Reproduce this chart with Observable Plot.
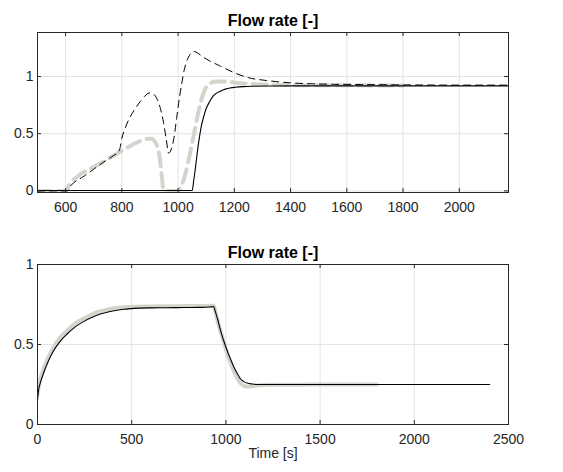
<!DOCTYPE html>
<html>
<head>
<meta charset="utf-8">
<script src="https://cdn.jsdelivr.net/npm/d3@7"></script>
<script src="https://cdn.jsdelivr.net/npm/@observablehq/plot@0.6"></script>
<style>
  html, body { margin: 0; padding: 0; background: #fff; }
  #chart svg { display: block; }
</style>
</head>
<body>
<div id="chart"></div>
<script>
// ---------- Data ----------
const titleText = "Flow rate [-]";
const xLabelText = "Time [s]";

// Top panel
const topXTicks = [600, 800, 1000, 1200, 1400, 1600, 1800, 2000];
const topYTicks = [0, 0.5, 1];
const topYTickLabels = ["0", "0.5", "1"];

const topSolidT = [500, 1050, 1056, 1060, 1066, 1070, 1076, 1083, 1091, 1100, 1112, 1125, 1137, 1150, 1168, 1185, 1203, 1232, 1270, 1315, 1400, 1600, 1800, 2000, 2180];
const topSolidV = [0.003, 0.003, 0.10, 0.17, 0.29, 0.37, 0.47, 0.57, 0.65, 0.72, 0.78, 0.83, 0.855, 0.872, 0.89, 0.90, 0.906, 0.912, 0.915, 0.917, 0.918, 0.918, 0.918, 0.918, 0.918];

const topDashT = [500, 605, 620, 660, 700, 740, 771, 785, 793, 800, 812, 824, 845, 865, 882, 897, 910, 924, 936, 948, 958, 966, 975, 985, 995, 1005, 1013, 1022, 1030, 1042, 1056, 1070, 1086, 1110, 1147, 1198, 1250, 1315, 1400, 1500, 1650, 1800, 2000, 2180];
const topDashV = [0, 0, 0.05, 0.12, 0.19, 0.26, 0.31, 0.335, 0.37, 0.46, 0.55, 0.62, 0.71, 0.78, 0.83, 0.855, 0.85, 0.81, 0.73, 0.60, 0.45, 0.33, 0.36, 0.46, 0.64, 0.82, 0.94, 1.06, 1.13, 1.19, 1.22, 1.205, 1.175, 1.14, 1.095, 1.035, 0.99, 0.965, 0.945, 0.935, 0.93, 0.927, 0.925, 0.925];

const topGrayT = [500, 600, 615, 650, 700, 723, 771, 800, 842, 870, 889, 904, 915, 924, 932, 939, 944, 948, 1000, 1012, 1025, 1040, 1055, 1068, 1082, 1098, 1115, 1127, 1150, 1178, 1203, 1256, 1315, 1400, 1600, 1800];
const topGrayV = [0, 0, 0.06, 0.14, 0.21, 0.24, 0.31, 0.35, 0.41, 0.44, 0.455, 0.455, 0.44, 0.40, 0.33, 0.20, 0.08, 0, 0, 0.05, 0.14, 0.30, 0.48, 0.64, 0.79, 0.90, 0.94, 0.955, 0.957, 0.956, 0.945, 0.935, 0.93, 0.925, 0.923, 0.922];

// Bottom panel
const botXTicks = [0, 500, 1000, 1500, 2000, 2500];
const botYTicks = [0, 0.5, 1];
const botYTickLabels = ["0", "0.5", "1"];

const botBlackT = [0, 5, 15, 32, 50, 67, 90, 112, 135, 156, 200, 244, 290, 333, 380, 422, 470, 510, 600, 687, 780, 865, 910, 927, 935, 944, 958, 971, 988, 1006, 1024, 1042, 1060, 1077, 1095, 1113, 1140, 1166, 1250, 1500, 1800, 2100, 2400];
const botBlackV = [0.15, 0.21, 0.26, 0.32, 0.375, 0.42, 0.47, 0.507, 0.54, 0.564, 0.61, 0.643, 0.67, 0.69, 0.705, 0.714, 0.721, 0.726, 0.729, 0.73, 0.731, 0.732, 0.734, 0.736, 0.737, 0.705, 0.65, 0.59, 0.525, 0.464, 0.41, 0.36, 0.32, 0.286, 0.268, 0.259, 0.253, 0.25, 0.25, 0.25, 0.25, 0.25, 0.25];

const botGrayT = [0, 10, 30, 50, 67, 100, 130, 156, 200, 250, 300, 350, 400, 450, 500, 600, 700, 800, 900, 935, 945, 960, 980, 1000, 1020, 1040, 1060, 1080, 1100, 1120, 1140, 1170, 1250, 1400, 1600, 1800];
const botGrayV = [0.19, 0.26, 0.34, 0.40, 0.44, 0.51, 0.555, 0.585, 0.63, 0.665, 0.695, 0.712, 0.725, 0.732, 0.736, 0.738, 0.739, 0.74, 0.741, 0.742, 0.70, 0.63, 0.55, 0.47, 0.40, 0.34, 0.29, 0.255, 0.24, 0.237, 0.24, 0.245, 0.248, 0.249, 0.25, 0.25];

// ---------- Helpers ----------
const zip = (ts, vs) => ts.map((t, i) => ({t, v: vs[i]}));
const FONT = "Liberation Sans, Arial, Helvetica, sans-serif";
const AX = "#262626";
const GRID = "#e3e3e3";
const GRAY = "#d6d3cc";
const TICK = 4;

function panel({height, mt, mb, xDomain, yDomain, xTicks, yTicks, yLabels, lines, xLabel}) {
  const W = 563, ml = 37, mr = 55;
  const ph = height - mt - mb, pw = W - ml - mr;
  const marks = [
    Plot.gridX(xTicks, {stroke: GRID, strokeOpacity: 1, strokeWidth: 1}),
    Plot.gridY(yTicks, {stroke: GRID, strokeOpacity: 1, strokeWidth: 1}),
    ...lines,
    Plot.ruleX(xTicks, {x: d => d, insetTop: ph - TICK, stroke: AX}),
    Plot.ruleX(xTicks, {x: d => d, insetBottom: ph - TICK, stroke: AX}),
    Plot.ruleY(yTicks, {y: d => d, insetRight: pw - TICK, stroke: AX}),
    Plot.ruleY(yTicks, {y: d => d, insetLeft: pw - TICK, stroke: AX}),
    Plot.frame({stroke: AX, strokeWidth: 1}),
    Plot.axisX(xTicks, {tickSize: 0, tickPadding: 10, fontSize: 14, fill: AX, label: null, tickFormat: d => String(d)}),
    Plot.axisY(yTicks, {tickSize: 0, tickPadding: 4, fontSize: 14, fill: AX, label: null, tickFormat: (d, i) => yLabels[i]}),
    Plot.text([titleText], {frameAnchor: "top", dy: -12, fontSize: 16, fontWeight: "bold", fill: "#000", lineAnchor: "middle"})
  ];
  if (xLabel) marks.push(Plot.text([xLabel], {frameAnchor: "bottom", dy: 29, fontSize: 14, fill: AX, lineAnchor: "middle"}));
  return Plot.plot({
    width: W, height,
    marginLeft: ml, marginRight: mr, marginTop: mt, marginBottom: mb,
    style: {fontFamily: FONT, background: "#fff", overflow: "visible"},
    x: {domain: xDomain, axis: null},
    y: {domain: yDomain, axis: null},
    marks
  });
}

const topLines = [
  Plot.line(zip(topGrayT, topGrayV), {x: "t", y: "v", stroke: GRAY, strokeWidth: 4, strokeDasharray: "14,7", curve: "monotone-x", clip: true}),
  Plot.line(zip(topDashT, topDashV), {x: "t", y: "v", stroke: "#000", strokeWidth: 1, strokeDasharray: "7,5", curve: "monotone-x", clip: true}),
  Plot.line(zip(topSolidT, topSolidV), {x: "t", y: "v", stroke: "#000", strokeWidth: 1.1, curve: "monotone-x", clip: true})
];
const botLines = [
  Plot.line(zip(botGrayT, botGrayV), {x: "t", y: "v", stroke: GRAY, strokeWidth: 4, curve: "monotone-x", clip: true}),
  Plot.line(zip(botBlackT, botBlackV), {x: "t", y: "v", stroke: "#000", strokeWidth: 1.1, curve: "monotone-x", clip: true})
];

const topChart = panel({height: 240, mt: 32, mb: 48, xDomain: [500, 2175], yDomain: [-0.014, 1.385],
  xTicks: topXTicks, yTicks: topYTicks, yLabels: topYTickLabels, lines: topLines});
const botChart = panel({height: 232, mt: 24, mb: 48, xDomain: [0, 2500], yDomain: [0, 1],
  xTicks: botXTicks, yTicks: botYTicks, yLabels: botYTickLabels, lines: botLines, xLabel: xLabelText});

document.getElementById("chart").append(topChart, botChart);
</script>
</body>
</html>
